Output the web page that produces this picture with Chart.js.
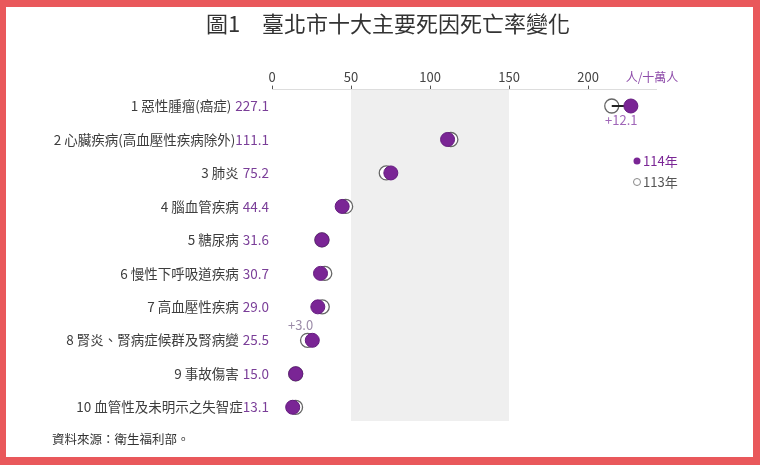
<!DOCTYPE html>
<html>
<head>
<meta charset="utf-8">
<script src="https://cdn.jsdelivr.net/npm/chart.js@4.4.1/dist/chart.umd.min.js"></script>
<style>
  html, body { margin: 0; padding: 0; background: #fff; }
  canvas { display: block; }
</style>
</head>
<body>
<canvas id="chart" width="760" height="465"></canvas>
<script>
// 十大死因 (依 114 年排序)
const causes = ['1 惡性腫瘤(癌症)', '2 心臟疾病(高血壓性疾病除外)', '3 肺炎', '4 腦血管疾病', '5 糖尿病',
  '6 慢性下呼吸道疾病', '7 高血壓性疾病', '8 腎炎、腎病症候群及腎病變', '9 事故傷害', '10 血管性及未明示之失智症'];
const rate114 = [227.1, 111.1, 75.2, 44.4, 31.6, 30.7, 29.0, 25.5, 15.0, 13.1]; // 人/十萬人
const rate113 = [215.0, 113.2, 72.3, 46.6, 31.6, 33.4, 31.8, 22.5, 15.0, 14.9];
const xTicks = [0, 50, 100, 150, 200];
const diffRows = [0, 7]; // 標示增減的列
const tightRows = [1, 9]; // 名稱和數值之間不空格

const FONT = '"Noto Sans CJK TC", "Noto Sans", sans-serif';
const PURPLE = '#7a2595';

const decor = {
  id: 'decor',
  beforeDraw(chart) {
    const ctx = chart.ctx;
    const x = chart.scales.x, area = chart.chartArea;
    ctx.save();
    // 外框
    ctx.fillStyle = '#e9585b';
    ctx.fillRect(0, 0, chart.width, chart.height);
    ctx.fillStyle = '#fff';
    ctx.fillRect(6, 7, 747, 450);
    // 50~150 灰色區塊
    ctx.fillStyle = '#efefef';
    const x0 = x.getPixelForValue(50), x1 = x.getPixelForValue(150);
    ctx.fillRect(x0, area.top, x1 - x0, area.bottom - area.top);
    ctx.restore();
  },
  afterDraw(chart) {
    const ctx = chart.ctx;
    const x = chart.scales.x, y = chart.scales.y;
    ctx.save();
    ctx.textBaseline = 'middle';

    // 標題
    ctx.font = '22px ' + FONT;
    ctx.fillStyle = '#333';
    ctx.textAlign = 'center';
    ctx.fillText('圖1　臺北市十大主要死因死亡率變化', 388, 24);

    // 單位
    ctx.font = '12px ' + FONT;
    ctx.fillStyle = '#8e4caa';
    ctx.fillText('人/十萬人', 652, 77);

    // 左側名稱與數值
    ctx.font = '13.5px ' + FONT;
    ctx.textAlign = 'right';
    causes.forEach(function(name, i) {
      const py = y.getPixelForValue(i);
      const val = rate114[i].toFixed(1);
      const right = 269;
      ctx.fillStyle = '#7a3e98';
      ctx.fillText(val, right, py);
      const gap = tightRows.includes(i) ? 0 : 4;
      ctx.fillStyle = '#3d3d3d';
      ctx.fillText(name, right - ctx.measureText(val).width - gap, py);
    });

    // 增減標示
    diffRows.forEach(function(i) {
      const d = rate114[i] - rate113[i];
      const txt = (d >= 0 ? '+' : '') + d.toFixed(1);
      const py = y.getPixelForValue(i);
      ctx.textAlign = 'center';
      ctx.font = '13px ' + FONT;
      if (i === 0) {
        ctx.fillStyle = '#a066b8';
        ctx.fillText(txt, (x.getPixelForValue(rate113[i]) + x.getPixelForValue(rate114[i])) / 2, py + 14);
      } else {
        ctx.fillStyle = '#9b8ba8';
        ctx.fillText(txt, x.getPixelForValue(rate113[i]) - 7, py - 15);
      }
    });

    // 圖例
    ctx.textAlign = 'left';
    ctx.font = '13px ' + FONT;
    ctx.fillStyle = PURPLE;
    ctx.beginPath();
    ctx.arc(637, 161, 3.5, 0, Math.PI * 2);
    ctx.fill();
    ctx.fillText('114年', 643, 161);
    ctx.strokeStyle = '#888';
    ctx.lineWidth = 1;
    ctx.beginPath();
    ctx.arc(637, 182, 3.5, 0, Math.PI * 2);
    ctx.stroke();
    ctx.fillStyle = '#555';
    ctx.fillText('113年', 643, 182);

    // 資料來源
    ctx.font = '12.5px ' + FONT;
    ctx.fillStyle = '#333';
    ctx.fillText('資料來源：衛生福利部。', 52, 439);
    ctx.restore();
  }
};

new Chart(document.getElementById('chart'), {
  type: 'scatter',
  data: {
    datasets: [
      {
        label: '114年',
        data: rate114.map(function(v, i) { return { x: v, y: i }; }),
        pointRadius: 7,
        backgroundColor: PURPLE,
        borderColor: '#651c80',
        borderWidth: 1,
        order: 0
      },
      {
        type: 'line',
        label: 'diff',
        data: [{ x: rate113[0], y: 0 }, { x: rate114[0], y: 0 }],
        borderColor: '#222',
        borderWidth: 2,
        pointRadius: 0,
        order: 1
      },
      {
        label: '113年',
        data: rate113.map(function(v, i) { return { x: v, y: i }; }),
        pointRadius: 7,
        backgroundColor: '#fff',
        borderColor: '#666',
        borderWidth: 1.3,
        order: 2
      }
    ]
  },
  options: {
    responsive: false,
    animation: false,
    devicePixelRatio: 1,
    layout: { padding: { left: 272, right: 104, top: 68, bottom: 44 } },
    plugins: { legend: { display: false }, tooltip: { enabled: false } },
    scales: {
      x: {
        type: 'linear',
        position: 'top',
        min: 0,
        max: 243,
        afterBuildTicks: function(axis) {
          axis.ticks = xTicks.map(function(v) { return { value: v }; });
        },
        grid: { drawOnChartArea: false, tickLength: 4, tickColor: '#555' },
        border: { color: '#ddd', width: 1 },
        ticks: { color: '#444', font: { size: 13, family: FONT }, padding: 1 }
      },
      y: {
        type: 'linear',
        reverse: true,
        min: -0.49,
        max: 9.41,
        display: false
      }
    }
  },
  plugins: [decor]
});
</script>
</body>
</html>
